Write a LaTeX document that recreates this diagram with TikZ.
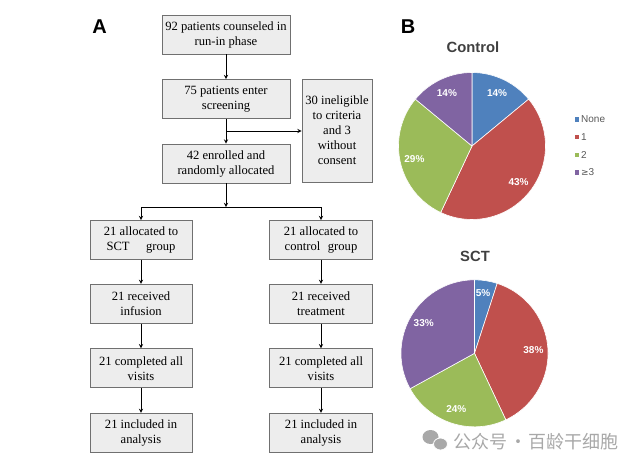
\documentclass[tikz,border=0pt]{standalone}
\usepackage{fontspec}
\setmainfont{Liberation Serif}
\setsansfont{Liberation Sans}
\newfontfamily\cjk{Noto Sans CJK SC}
\usetikzlibrary{positioning}

\definecolor{boxfill}{HTML}{EDEDED}
\definecolor{boxline}{HTML}{707070}
\definecolor{slblue}{HTML}{4F81BD}
\definecolor{slred}{HTML}{C0504D}
\definecolor{slgreen}{HTML}{9BBB59}
\definecolor{slpurple}{HTML}{8064A2}
\definecolor{titlegray}{HTML}{404040}
\definecolor{leggray}{HTML}{595959}
\definecolor{markgray}{HTML}{A8A8A8}

\tikzset{
  flowbox/.style={draw=boxline, fill=boxfill, line width=0.8pt, align=center,
    inner sep=0pt, minimum height=39pt, font=\fontsize{12.6}{15}\selectfont},
  panel/.style={font=\sffamily\bfseries\fontsize{20}{22}\selectfont},
  pietitle/.style={text=titlegray, font=\sffamily\bfseries\fontsize{14.8}{16}\selectfont},
  pielabel/.style={text=white, font=\sffamily\bfseries\fontsize{10}{11}\selectfont},
  slice/.style={draw=white, line width=0.6pt},
  legbox/.style={inner sep=0pt, minimum size=4.5pt},
  legtext/.style={text=leggray, inner sep=0pt, font=\sffamily\fontsize{10}{11}\selectfont},
}

\begin{document}
\begin{tikzpicture}[x=1pt, y=1pt, >=stealth]
    \useasboundingbox (0,0) rectangle (644,-467);

    % Panel A: flow chart
    \node[panel] (panA) at (99.5,-26.5) {A};

    \node[flowbox, minimum width=128pt] (counsel) at (226,-34.5) {92 patients counseled in\\run-in phase};
    \node[flowbox, minimum width=128pt] (screen) at (226,-99) {75 patients enter\\screening};
    \node[flowbox, minimum width=128pt] (enrol) at (226,-163.5) {42 enrolled and\\randomly allocated};
    \node[flowbox, minimum width=70pt, minimum height=103pt] (inelig) at (337,-130.5) {30 ineligible\\to criteria\\and 3\\without\\consent};

    \node[flowbox, minimum width=102pt] (sctalloc) at (141,-240) {21 allocated to\\SCT\hspace{1.3em}group};
    \node[flowbox, minimum width=102pt] (sctinf) at (141,-303.8) {21 received\\infusion};
    \node[flowbox, minimum width=102pt] (sctvisit) at (141,-368.2) {21 completed all\\visits};
    \node[flowbox, minimum width=102pt] (sctanal) at (141,-432.8) {21 included in\\analysis};

    \node[flowbox, minimum width=103pt] (ctlalloc) at (321,-240) {21 allocated to\\control\hspace{0.6em}group};
    \node[flowbox, minimum width=103pt] (ctltreat) at (321,-303.8) {21 received\\treatment};
    \node[flowbox, minimum width=103pt] (ctlvisit) at (321,-368.2) {21 completed all\\visits};
    \node[flowbox, minimum width=103pt] (ctlanal) at (321,-432.8) {21 included in\\analysis};

    % Verbindungen
    \coordinate (branch) at (226,-131);
    \coordinate (split) at (226,-207);
    \draw[->, line width=0.9pt] (counsel) -- (screen);
    \draw[->, line width=0.9pt] (screen) -- (enrol);
    \draw[->, line width=0.9pt] (branch) -- (branch -| inelig.west);
    \draw[->, line width=0.9pt] (enrol) -- (split);
    \draw[->, line width=0.9pt] (split) -| (sctalloc);
    \draw[->, line width=0.9pt] (split) -| (ctlalloc);
    \draw[->, line width=0.9pt] (sctalloc) -- (sctinf);
    \draw[->, line width=0.9pt] (sctinf) -- (sctvisit);
    \draw[->, line width=0.9pt] (sctvisit) -- (sctanal);
    \draw[->, line width=0.9pt] (ctlalloc) -- (ctltreat);
    \draw[->, line width=0.9pt] (ctltreat) -- (ctlvisit);
    \draw[->, line width=0.9pt] (ctlvisit) -- (ctlanal);

    % Panel B: pie charts
    \node[panel] (panB) at (408,-27) {B};

    % Control
    \node[pietitle] (ctltitle) at (473,-47) {Control};
    \coordinate (ctlpie) at (472,-146);
    \filldraw[slice, fill=slblue] (ctlpie) -- ++(90:73.5) arc[start angle=90, end angle=39.6, radius=73.5] -- cycle;
    \filldraw[slice, fill=slred] (ctlpie) -- ++(39.6:73.5) arc[start angle=39.6, end angle=-115.2, radius=73.5] -- cycle;
    \filldraw[slice, fill=slgreen] (ctlpie) -- ++(-115.2:73.5) arc[start angle=-115.2, end angle=-219.6, radius=73.5] -- cycle;
    \filldraw[slice, fill=slpurple] (ctlpie) -- ++(140.4:73.5) arc[start angle=140.4, end angle=90, radius=73.5] -- cycle;
    \node[pielabel] (ctlnone) at ([shift={(64.8:59)}]ctlpie) {14\%};
    \node[pielabel] (ctlone) at ([shift={(-37.8:59)}]ctlpie) {43\%};
    \node[pielabel] (ctltwo) at ([shift={(-167.4:59)}]ctlpie) {29\%};
    \node[pielabel] (ctlthree) at ([shift={(115.2:59)}]ctlpie) {14\%};

    % Legende
    \node[legbox, fill=slblue] (lgnone) at (577,-119.5) {};
    \node[legbox, fill=slred] (lgone) at (577,-137) {};
    \node[legbox, fill=slgreen] (lgtwo) at (577,-155) {};
    \node[legbox, fill=slpurple] (lgthree) at (577,-172.5) {};
    \node[legtext, right=1.5pt of lgnone] (lgnonetext) {None};
    \node[legtext, right=1.5pt of lgone] (lgonetext) {1};
    \node[legtext, right=1.5pt of lgtwo] (lgtwotext) {2};
    \node[legtext, right=1.5pt of lgthree] (lgthreetext) {{\fontspec{DejaVu Sans}\fontsize{9}{11}\selectfont ≥}3};

    % SCT
    \node[pietitle] (scttitle) at (475,-256.7) {SCT};
    \coordinate (sctpie) at (474.5,-353.3);
    \filldraw[slice, fill=slblue] (sctpie) -- ++(90:73.5) arc[start angle=90, end angle=72, radius=73.5] -- cycle;
    \filldraw[slice, fill=slred] (sctpie) -- ++(72:73.5) arc[start angle=72, end angle=-64.8, radius=73.5] -- cycle;
    \filldraw[slice, fill=slgreen] (sctpie) -- ++(-64.8:73.5) arc[start angle=-64.8, end angle=-151.2, radius=73.5] -- cycle;
    \filldraw[slice, fill=slpurple] (sctpie) -- ++(-151.2:73.5) arc[start angle=-151.2, end angle=-270, radius=73.5] -- cycle;
    \node[pielabel] (sctnone) at ([shift={(82:61)}]sctpie) {5\%};
    \node[pielabel] (sctone) at ([shift={(3.6:59)}]sctpie) {38\%};
    \node[pielabel] (scttwo) at ([shift={(-108:59)}]sctpie) {24\%};
    \node[pielabel] (sctthree) at ([shift={(149.4:59)}]sctpie) {33\%};

    % Wasserzeichen
    \fill[markgray] (430.5,-437) ellipse (8 and 7);
    \filldraw[fill=markgray, draw=white, line width=0.8pt] (440.5,-444) ellipse (7 and 6);
    \node[text=markgray, anchor=west, inner sep=0pt, font=\cjk\fontsize{18}{19}\selectfont] (mark) at (453,-441.7) {公众号\hspace{0.1em}·\hspace{0.1em}百龄干细胞};
\end{tikzpicture}
\end{document}
